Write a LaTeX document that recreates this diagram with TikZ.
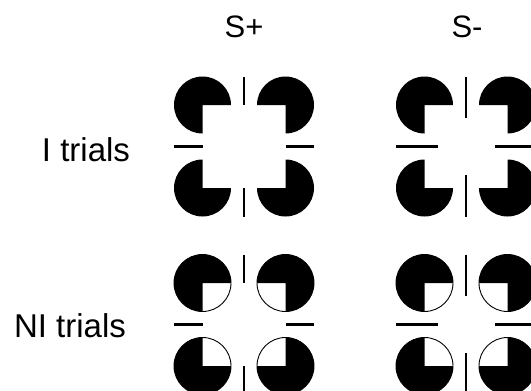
\documentclass[tikz,border=0pt]{standalone}
\usepackage{fontspec}
\setmainfont{Liberation Sans}
\usetikzlibrary{positioning}

\begin{document}
\begin{tikzpicture}[
  x=1pt, y=1pt,
  ind/.style={fill=black},
  hole/.style={draw=black, line width=0.9pt, fill=white},
  bar/.style={draw=black, line width=2.4pt},
  ttl/.style={font=\fontsize{31}{36}\selectfont, inner sep=0pt},
  rlab/.style={font=\fontsize{33}{39}\selectfont, inner sep=0pt},
]

% ============ helper values ============
\def\rr{28.5}  % inducer radius
\def\hh{41.5}  % half distance between inducer centres

\useasboundingbox (0,0) rectangle (531,-391);
\clip (0,0) rectangle (531,-391);

% ============ labels ============
\node[ttl]  (sp)   at (244,-27)  {S+};
\node[ttl]  (sm)   at (467,-27)  {S-};
\node[rlab] (itr)  at (86,-150)  {I trials};
\node[rlab] (nitr) at (70,-326)  {NI trials};

% ============ four Kanizsa figures ============
% \ext: how far the bars run past the inducer centre (0 = S+, 13 = S-)
% \ni : 1 = missing quarter drawn as white outlined sector
\foreach \cx/\ext in {244/0, 466/13}{
  \foreach \cy/\ni in {-146.5/0, -324.5/1}{
    % inducers
    \foreach \sx/\sy/\a in {-1/1/0, 1/1/270, -1/-1/90, 1/-1/180}{
      \ifnum\ni=1
        \path[hole] (\cx+\sx*\hh,\cy+\sy*\hh) circle (\rr);
      \fi
      \fill[ind] (\cx+\sx*\hh,\cy+\sy*\hh) -- ++(\a:\rr)
        arc[start angle=\a, end angle=\a+270, radius=\rr] -- cycle;
    }
    % bars
    \draw[bar] (\cx,\cy+\hh+\rr) -- (\cx,\cy+\hh-\ext);
    \draw[bar] (\cx,\cy-\hh-\rr) -- (\cx,\cy-\hh+\ext);
    \draw[bar] (\cx-\hh-\rr,\cy) -- (\cx-\hh+\ext,\cy);
    \draw[bar] (\cx+\hh+\rr,\cy) -- (\cx+\hh-\ext,\cy);
  }
}

\end{tikzpicture}
\end{document}
